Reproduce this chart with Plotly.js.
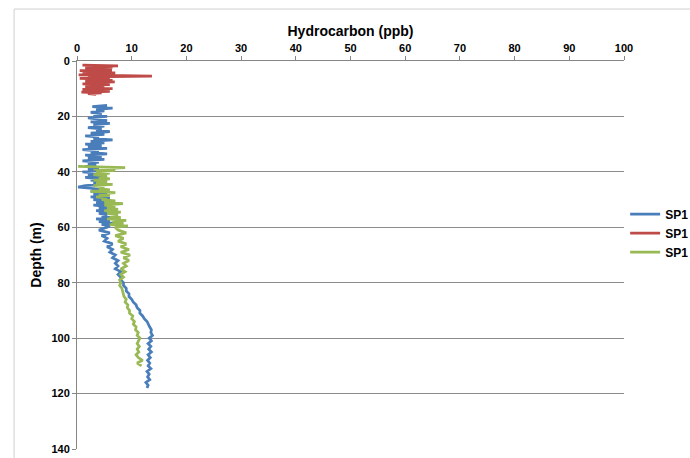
<!DOCTYPE html>
<html>
<head>
<meta charset="utf-8">
<script src="https://cdn.plot.ly/plotly-3.0.1.min.js"></script>
<style>
html,body{margin:0;padding:0;background:#fff;}
#chart{width:690px;height:458px;}
</style>
</head>
<body>
<div id="chart"></div>
<script>
// Series names
const seriesNames = ["SP1", "SP1", "SP1"];

// Red series (shallow)
const redDepth = [1.5,1.75,2,2.25,2.5,2.75,3,3.25,3.5,3.75,4,4.25,4.5,4.75,5,5.25,5.5,5.75,6,6.25,6.5,6.75,7,7.25,7.5,7.75,8,8.25,8.5,8.75,9,9.25,9.5,9.75,10,10.25,10.5,10.75,11,11.25,11.5,11.75,12];
const redValue = [1.0,7.5,2.0,6.5,1.5,5.5,2.5,6.4,0.5,5.0,2.0,7.0,1.0,5.5,0.3,8.0,13.7,2.0,6.0,0.5,5.0,2.5,6.5,1.5,6.9,3.0,5.5,1.0,6.0,2.5,5.0,1.5,4.5,2.0,6.5,1.0,5.5,2.5,6.0,0.8,4.5,2.0,3.5];

// Blue series
const blueDepth = [16,16.5,17,17.5,18,18.5,19,19.5,20,20.5,21,21.5,22,22.5,23,23.5,24,24.5,25,25.5,26,26.5,27,27.5,28,28.5,29,29.5,30,30.5,31,31.5,32,32.5,33,33.5,34,34.5,35,35.5,36,36.5,37,37.5,38,38.5,39,39.5,40,40.5,41,41.5,42,42.5,43,43.5,44,44.5,45,45.5,46,46.5,47,47.5,48,48.5,49,49.5,50,50.5,51,51.5,52,52.5,53,53.5,54,54.5,55,55.5,56,56.5,57,57.5,58,58.5,59,59.5,60,
61,62,63,64,65,66,67,68,69,70,71,72,73,74,75,76,77,78,79,80,81,82,83,84,85,86,87,88,89,90,91,92,93,94,95,96,97,98,99,100,101,102,103,104,105,106,107,108,109,110,111,112,113,114,115,116,117,118];
const blueValue = [5.5,2.8,6.5,3.5,5.0,2.5,4.5,3.0,5.5,2.0,4.0,5.5,2.5,6.0,3.0,5.0,2.0,4.5,3.5,6.0,2.5,5.0,1.5,4.0,3.0,6.5,2.5,5.0,1.5,4.5,2.0,5.5,1.0,4.0,2.5,5.5,1.5,4.5,2.0,5.0,1.0,4.0,2.0,3.5,1.5,4.0,2.0,5.0,1.0,3.5,2.0,4.5,1.5,4.0,2.5,5.0,3.0,4.5,1.5,0.2,3.0,4.5,2.5,5.5,3.0,5.0,2.5,6.0,3.0,5.0,3.5,6.5,3.0,5.5,4.0,6.0,3.5,6.5,4.0,5.5,4.5,6.5,3.5,6.0,4.0,7.0,4.5,6.0,5.5,
4.0,6.0,4.5,5.5,5.0,6.5,5.5,6.5,6.0,7.0,6.5,7.5,7.0,7.5,7.0,8.0,7.5,8.0,8.0,8.5,8.5,9.0,9.0,9.5,9.5,10.0,10.3,10.8,11.0,11.5,11.5,12.0,12.3,12.8,13.0,13.3,13.6,13.5,13.8,13.2,13.6,13.0,13.5,13.1,13.6,13.0,13.4,12.9,13.3,13.0,13.5,12.8,13.2,12.9,13.3,12.6,13.0,12.8];

// Green series
const greenDepth = [38,38.5,39,39.5,40,40.5,41,41.5,42,42.5,43,43.5,44,44.5,45,45.5,46,46.5,47,47.5,48,48.5,49,49.5,50,50.5,51,51.5,52,52.5,53,53.5,54,54.5,55,55.5,56,56.5,57,57.5,58,58.5,59,59.5,60,
61,62,63,64,65,66,67,68,69,70,71,72,73,74,75,76,77,78,79,80,81,82,83,84,85,86,87,88,89,90,91,92,93,94,95,96,97,98,99,100,101,102,103,104,105,106,107,108,109,110];
const greenValue = [0.2,8.8,3.0,7.0,3.5,6.0,3.0,5.5,4.0,6.0,3.0,5.5,3.5,6.5,3.0,5.0,4.0,6.0,2.5,7.0,4.0,6.0,3.5,5.5,4.5,7.0,5.0,8.4,5.0,7.0,5.5,7.5,5.0,8.0,5.5,7.5,6.0,8.0,5.5,9.0,6.5,8.5,6.0,9.3,7.0,
7.5,9.0,7.0,8.5,7.5,9.0,8.0,9.5,8.0,9.7,8.5,9.5,8.5,9.0,8.0,8.8,8.0,8.5,7.8,8.0,7.8,8.2,8.3,8.5,8.6,9.0,8.8,9.3,9.2,9.6,9.6,10.2,10.0,10.5,10.3,10.8,10.7,11.2,11.0,11.5,11.2,11.0,11.4,11.0,11.3,10.8,11.2,12.0,11.0,11.8];

// Axis ticks
const xTicks = [0,10,20,30,40,50,60,70,80,90,100];
const yTicks = [0,20,40,60,80,100,120,140];

const colors = ["#4A7EBB", "#BE4B48", "#98B954"];
const font = "Liberation Sans, Arial, sans-serif";

const traces = [
  {x: blueValue, y: blueDepth, name: seriesNames[0], mode: "lines", line: {color: colors[0], width: 2.75}},
  {x: redValue, y: redDepth, name: seriesNames[1], mode: "lines", line: {color: colors[1], width: 2.75}},
  {x: greenValue, y: greenDepth, name: seriesNames[2], mode: "lines", line: {color: colors[2], width: 2.75}}
];

const layout = {
  width: 690, height: 458,
  margin: {l: 77, r: 66, t: 61, b: 9},
  paper_bgcolor: "#fff", plot_bgcolor: "#fff",
  font: {family: font, size: 11, color: "#000"},
  showlegend: true,
  legend: {xref: "container", yref: "container", x: 0.906, xanchor: "left", y: 0.491, yanchor: "middle",
    font: {family: font, size: 12, color: "#000", weight: "bold"}, bgcolor: "rgba(0,0,0,0)"},
  xaxis: {
    side: "top", range: [0, 100], tickvals: xTicks, ticktext: xTicks.map(String),
    showgrid: false, zeroline: false, showline: true, linecolor: "#868686", linewidth: 1,
    ticks: "outside", ticklen: 4, tickcolor: "#868686",
    tickfont: {family: font, size: 11, color: "#000", weight: "bold"},
    title: {text: "Hydrocarbon (ppb)", font: {family: font, size: 14, color: "#000", weight: "bold"}, standoff: 1}
  },
  yaxis: {
    range: [140, 0], tickvals: yTicks, ticktext: yTicks.map(String),
    showgrid: true, gridcolor: "#8c8c8c", gridwidth: 1, zeroline: false,
    showline: true, linecolor: "#868686", linewidth: 1,
    ticks: "outside", ticklen: 4, tickcolor: "#868686",
    tickfont: {family: font, size: 11, color: "#000", weight: "bold"},
    title: {text: "Depth (m)", font: {family: font, size: 14, color: "#000", weight: "bold"}, standoff: 6}
  },
  shapes: [{type: "rect", xref: "paper", yref: "paper", x0: -0.115, x1: 1.2, y0: -0.2, y1: 1.134, line: {color: "#d0d0d0", width: 1}, fillcolor: "rgba(0,0,0,0)", layer: "below"}]
};

Plotly.newPlot("chart", traces, layout, {displayModeBar: false, staticPlot: true});
</script>
</body>
</html>
